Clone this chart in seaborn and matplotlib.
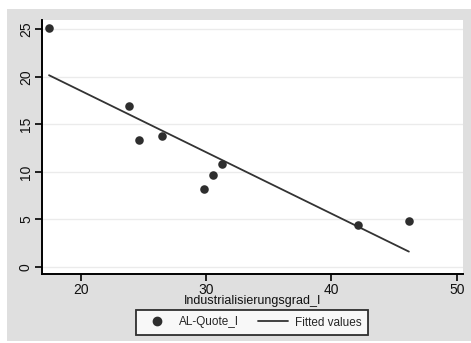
import matplotlib
matplotlib.use("Agg")
import matplotlib.pyplot as plt
import matplotlib.patches as mpatches
from matplotlib.lines import Line2D
import seaborn as sns
import pandas as pd

# values
industrialisierung = [17.45, 23.86, 24.65, 26.44, 29.84, 30.56, 31.25, 42.08, 46.18]
al_quote = [25.1, 16.93, 13.35, 13.77, 8.19, 9.66, 10.82, 4.47, 4.85]
x_ticks = [20, 30, 40, 50]
y_ticks = [0, 5, 10, 15, 20, 25]
legend_labels = ["AL-Quote_I", "Fitted values"]

df = pd.DataFrame({"Industrialisierungsgrad_I": industrialisierung, "AL-Quote_I": al_quote})

sns.set_style("white")
plt.rcParams["font.family"] = ["Liberation Sans", "DejaVu Sans"]

fig = plt.figure(figsize=(4.71, 3.43), dpi=100)
fig.patch.set_facecolor("white")
# grey outer region like the stata graph region
fig.patches.append(mpatches.Rectangle((7 / 471, 2 / 343), 464 / 471, 332 / 343,
                                      transform=fig.transFigure, facecolor="#dfdfdf",
                                      edgecolor="none", zorder=-5))

ax = fig.add_axes([42 / 471, 1 - 273.5 / 343, 421 / 471, 253.5 / 343])
ax.set_facecolor("white")

sns.regplot(data=df, x="Industrialisierungsgrad_I", y="AL-Quote_I", ci=None, ax=ax,
            scatter_kws={"s": 38, "color": "#2e2e2e", "linewidths": 0, "alpha": 1, "zorder": 3},
            line_kws={"color": "#333333", "lw": 1.3, "zorder": 2})

ax.set_xlim(16.89, 50.5)
ax.set_ylim(-0.68, 25.98)
ax.set_xticks(x_ticks)
ax.set_yticks(y_ticks)
ax.set_yticklabels([str(v) for v in y_ticks], rotation=90, va="center")
ax.tick_params(axis="both", direction="out", length=5, width=1.2, color="black",
               labelsize=10, pad=1.5, left=True, bottom=True, labelcolor="#111111")
ax.grid(axis="y", color="#ebebeb", lw=1)
ax.grid(axis="x", visible=False)
for side in ["top", "right"]:
    ax.spines[side].set_visible(False)
for side in ["left", "bottom"]:
    ax.spines[side].set_color("black")
    ax.spines[side].set_linewidth(1.4)
ax.set_xlabel("Industrialisierungsgrad_I", fontsize=9, labelpad=-1, color="#111111")
ax.set_ylabel("")

handles = [Line2D([], [], ls="none", marker="o", markersize=6, color="#2e2e2e"),
           Line2D([], [], color="#333333", lw=1.3)]
leg = fig.legend(handles, legend_labels, loc="center", bbox_to_anchor=(252 / 471, 1 - 322.5 / 343),
                 ncol=2, frameon=True, fancybox=False, edgecolor="black", fontsize=8.5,
                 handlelength=2.5, columnspacing=1.6, borderpad=0.55, handletextpad=0.6)
leg.get_frame().set_linewidth(1.3)
leg.get_frame().set_facecolor("white")

fig.savefig("out.png", dpi=100)
